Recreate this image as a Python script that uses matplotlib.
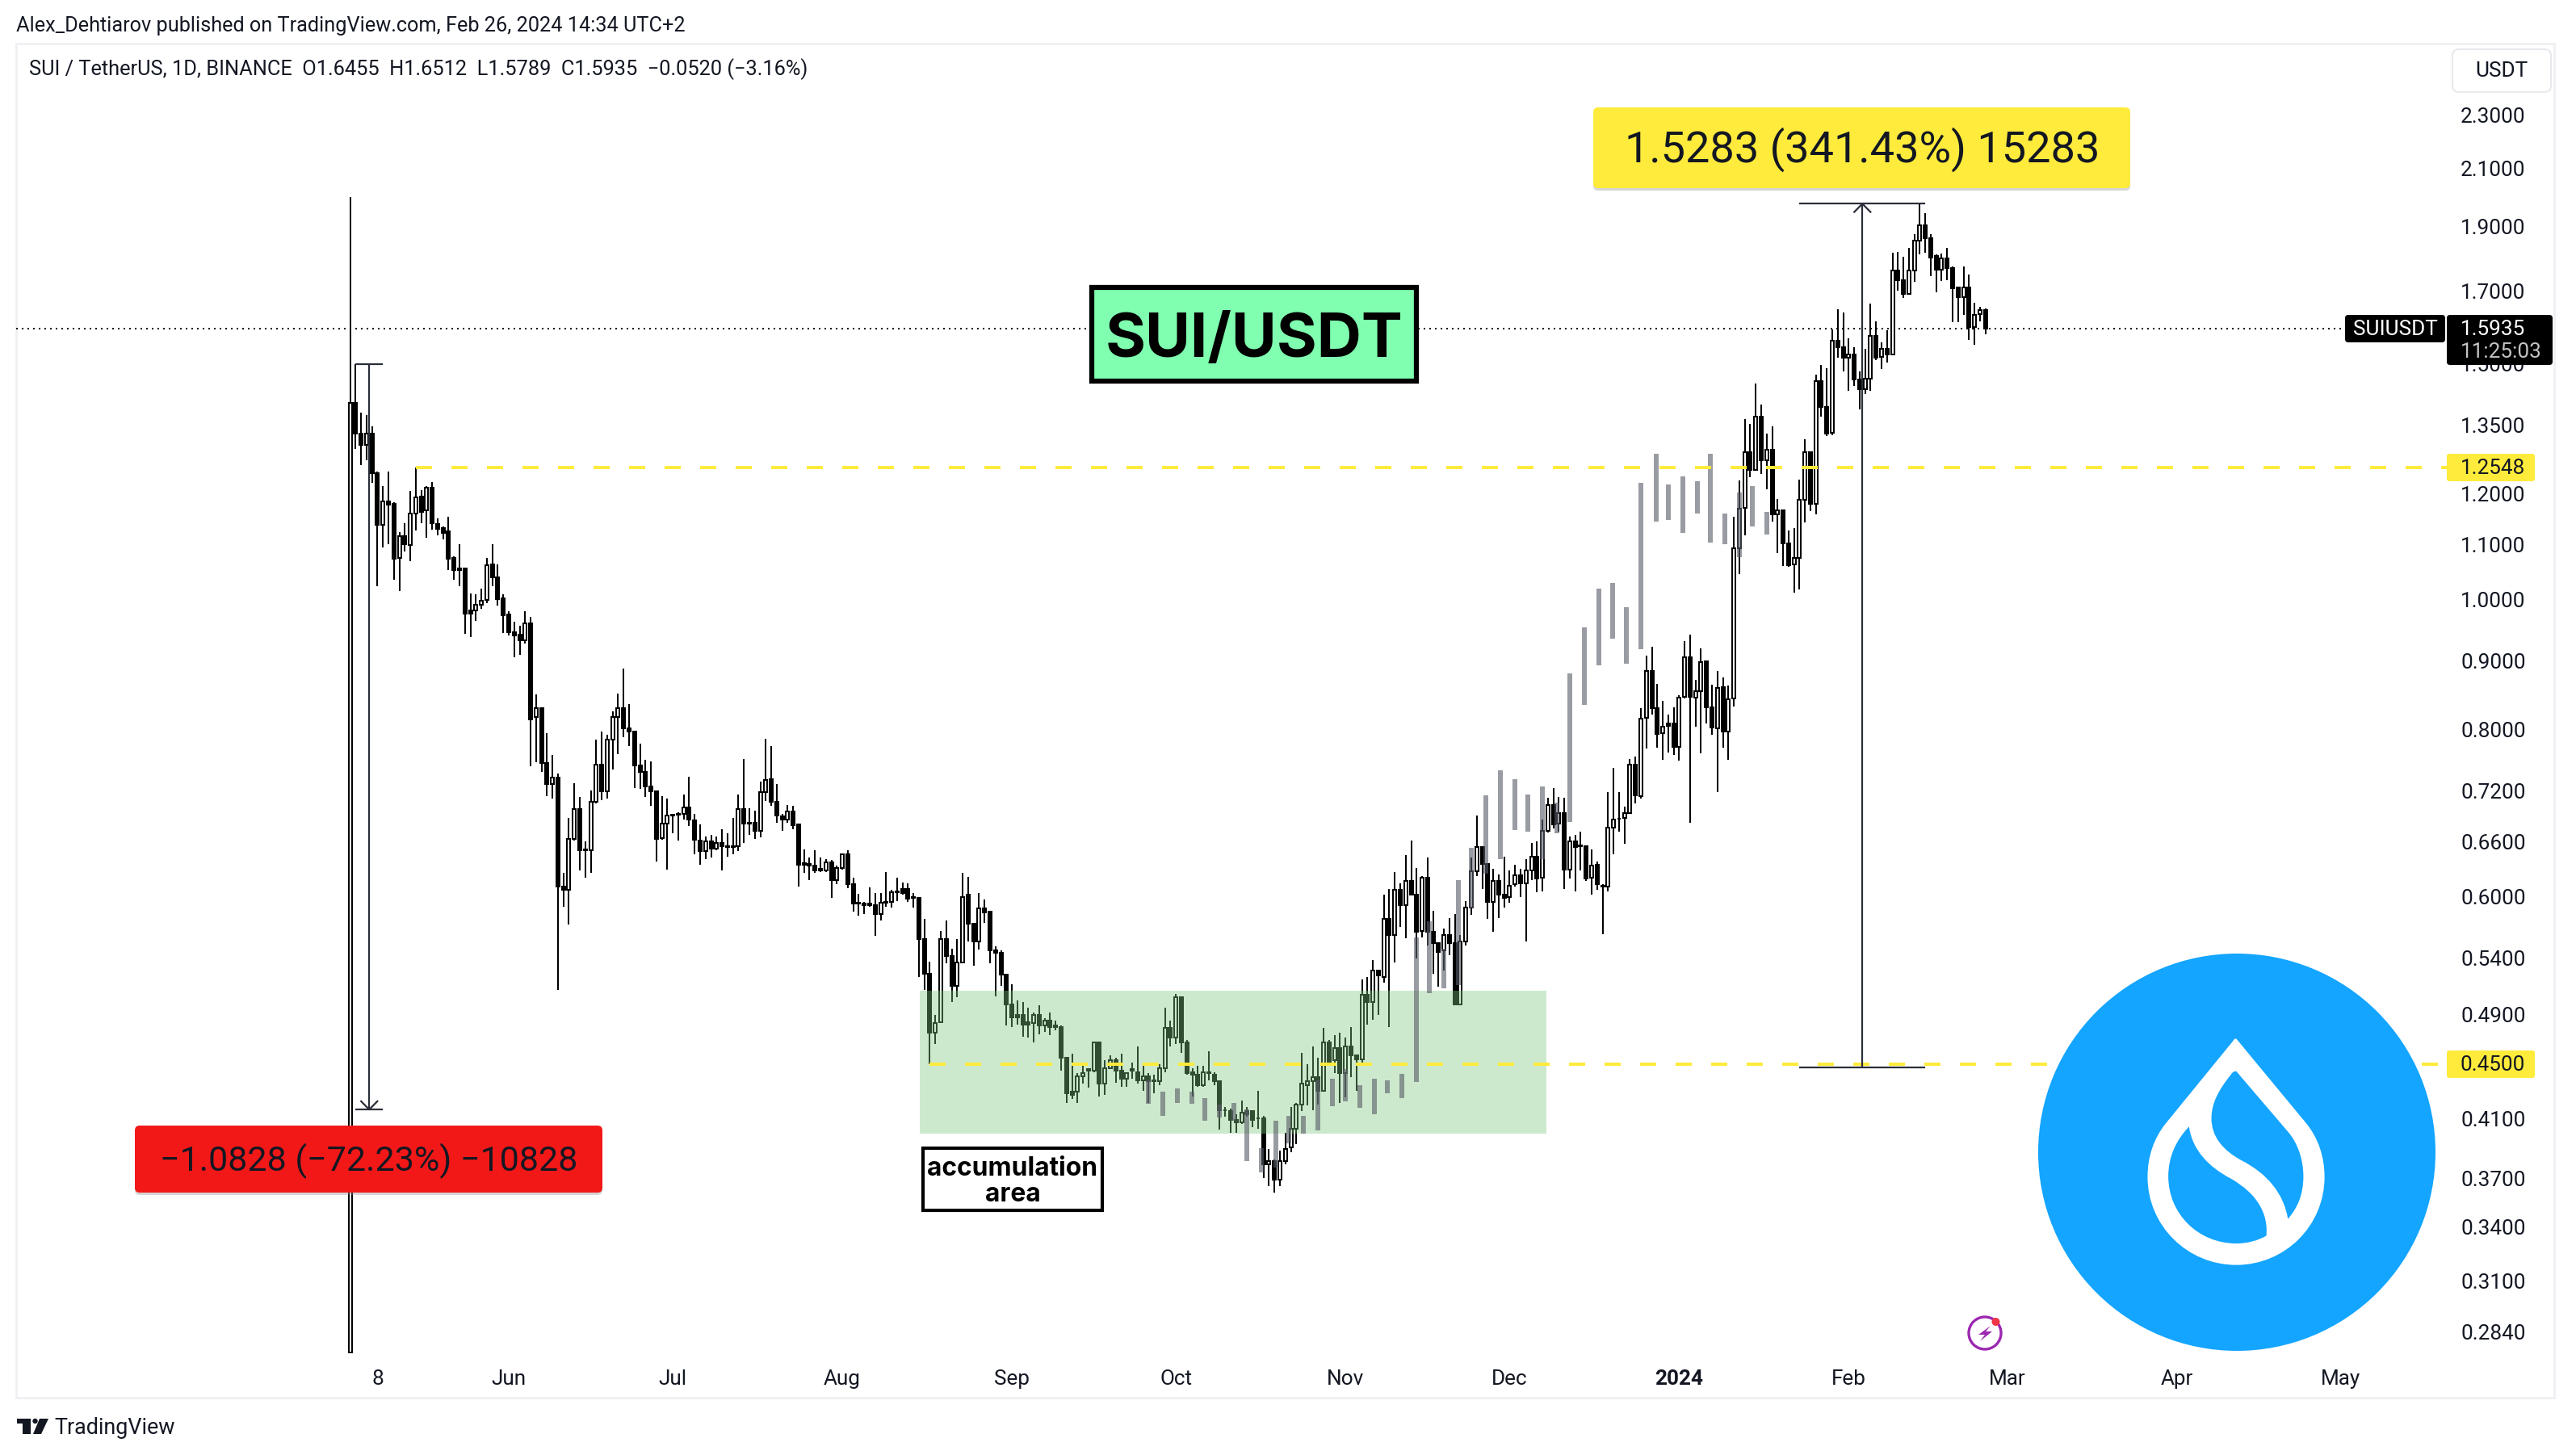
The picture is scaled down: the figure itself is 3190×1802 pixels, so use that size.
import numpy as np
import matplotlib
matplotlib.use("Agg")
import matplotlib.pyplot as plt
from matplotlib.patches import Circle, FancyBboxPatch, PathPatch, Polygon, Rectangle
from matplotlib.path import Path

plt.rcParams['font.family'] = ['Roboto', 'DejaVu Sans']

# candles, one per day, first one is day 2 (days counted from 1 May 2023)
first_day = 2
opens = [
    .274, 1.403, 1.331, 1.306, 1.331, 1.244, 1.137, 1.185, 1.180, 1.074,
    1.116, 1.099, 1.160, 1.194, 1.166, 1.213, 1.140, 1.131, 1.125, 1.074,
    1.056, 1.056, .982, .982, .992, 1.000, 1.063, 1.040, 1.002, .975,
    .946, .942, .933, .960, .817, .830, .755, .729, .737, .611,
    .607, .663, .698, .651, .650, .707, .753, .720, .786, .817,
    .830, .802, .797, .752, .744, .726, .720, .664, .681, .691,
    .692, .692, .700, .684, .661, .649, .660, .652, .658, .655,
    .655, .655, .698, .682, .682, .672, .719, .735, .707, .689,
    .685, .695, .680, .636, .635, .633, .630, .628, .637, .618,
    .631, .646, .613, .594, .593, .593, .592, .583, .595, .595,
    .606, .608, .608, .600, .599, .558, .526, .475, .484, .558,
    .542, .515, .536, .602, .573, .556, .588, .585, .547, .545,
    .525, .499, .490, .490, .484, .483, .490, .481, .485, .481,
    .480, .455, .429, .429, .441, .446, .445, .467, .435, .447,
    .453, .445, .439, .446, .444, .438, .441, .438, .437, .447,
    .479, .471, .505, .467, .444, .442, .434, .444, .442, .437,
    .416, .415, .409, .407, .415, .415, .410, .410, .379, .381,
    .369, .381, .390, .403, .420, .434, .437, .440, .430, .467,
    .453, .463, .443, .464, .457, .454, .507, .501, .529, .523,
    .578, .562, .607, .592, .617, .602, .566, .620, .565, .554,
    .547, .562, .554, .499, .556, .589, .627, .654, .635, .595,
    .617, .602, .600, .613, .623, .614, .628, .643, .620, .672,
    .703, .681, .693, .629, .660, .656, .655, .620, .634, .612,
    .611, .676, .686, .687, .693, .753, .714, .816, .885, .830,
    .795, .808, .808, .777, .846, .906, .845, .855, .900, .831,
    .802, .861, .797, .844, 1.093, 1.171, 1.289, 1.251, 1.371, 1.272,
    1.295, 1.158, 1.166, 1.102, 1.063, 1.075, 1.187, 1.289, 1.180, 1.456,
    1.394, 1.332, 1.561, 1.544, 1.517, 1.525, 1.461, 1.436, 1.463, 1.574,
    1.518, 1.539, 1.524, 1.762, 1.733, 1.692, 1.762, 1.854, 1.905, 1.862,
    1.807, 1.764, 1.798, 1.769, 1.710, 1.682, 1.712, 1.599, 1.635, 1.6455,
]
highs = [
    2.000, 1.500, 1.380, 1.375, 1.347, 1.246, 1.216, 1.246, 1.183, 1.123,
    1.141, 1.206, 1.255, 1.208, 1.216, 1.225, 1.150, 1.135, 1.154, 1.078,
    1.100, 1.056, 1.011, 1.010, 1.019, 1.074, 1.101, 1.063, 1.010, .980,
    .963, .956, .980, .971, .850, .830, .795, .766, .742, .625,
    .687, .730, .713, .660, .721, .786, .797, .793, .825, .851,
    .889, .836, .797, .781, .760, .757, .720, .714, .711, .692,
    .694, .716, .738, .692, .680, .666, .668, .666, .674, .669,
    .687, .716, .761, .699, .696, .732, .788, .778, .729, .692,
    .703, .702, .681, .651, .642, .650, .642, .640, .639, .633,
    .647, .650, .620, .603, .595, .610, .604, .604, .626, .607,
    .620, .615, .614, .604, .600, .578, .537, .490, .566, .576,
    .549, .558, .625, .621, .573, .604, .597, .585, .551, .547,
    .525, .516, .502, .501, .496, .492, .498, .487, .492, .485,
    .481, .456, .458, .443, .449, .447, .468, .467, .453, .457,
    .455, .458, .444, .451, .464, .449, .443, .442, .450, .496,
    .485, .508, .506, .469, .447, .449, .449, .460, .444, .438,
    .418, .417, .413, .423, .418, .415, .430, .412, .389, .382,
    .388, .400, .418, .421, .459, .450, .464, .455, .479, .469,
    .473, .475, .471, .480, .457, .521, .523, .538, .529, .602,
    .608, .626, .614, .645, .661, .631, .622, .642, .586, .554,
    .568, .579, .583, .562, .596, .642, .690, .655, .635, .630,
    .624, .643, .628, .634, .630, .640, .658, .660, .685, .712,
    .724, .713, .712, .666, .668, .671, .656, .651, .638, .613,
    .719, .749, .719, .701, .761, .764, .830, .909, .922, .866,
    .841, .821, .831, .849, .931, .942, .871, .920, .900, .864,
    .885, .875, .863, 1.153, 1.228, 1.364, 1.354, 1.451, 1.400, 1.331,
    1.348, 1.189, 1.166, 1.127, 1.131, 1.230, 1.318, 1.291, 1.472, 1.498,
    1.490, 1.592, 1.648, 1.638, 1.568, 1.544, 1.482, 1.540, 1.664, 1.615,
    1.558, 1.589, 1.816, 1.820, 1.804, 1.832, 1.876, 1.976, 1.945, 1.876,
    1.812, 1.814, 1.832, 1.773, 1.711, 1.773, 1.749, 1.666, 1.656, 1.6512,
]
lows = [
    .274, 1.296, 1.261, 1.271, 1.222, 1.024, 1.094, 1.100, 1.035, 1.015,
    1.086, 1.069, 1.126, 1.141, 1.112, 1.128, 1.117, 1.109, 1.052, 1.035,
    1.024, .943, .938, .964, .985, .995, 1.024, .990, .944, .941,
    .906, .910, .928, .751, .756, .744, .714, .711, .511, .590,
    .572, .661, .628, .620, .625, .705, .709, .711, .747, .767,
    .790, .778, .724, .723, .713, .702, .638, .662, .629, .669,
    .661, .685, .678, .646, .634, .640, .642, .650, .628, .643,
    .646, .649, .658, .668, .663, .665, .708, .702, .682, .672,
    .682, .674, .611, .625, .618, .625, .626, .626, .599, .613,
    .629, .609, .585, .581, .583, .590, .561, .576, .590, .589,
    .596, .602, .595, .589, .523, .511, .450, .466, .483, .535,
    .501, .505, .535, .556, .533, .548, .574, .535, .506, .515,
    .481, .480, .482, .472, .471, .467, .474, .476, .473, .477,
    .445, .421, .424, .421, .435, .432, .444, .426, .427, .446,
    .436, .433, .433, .439, .435, .430, .421, .428, .434, .444,
    .464, .466, .459, .442, .426, .433, .433, .438, .434, .402,
    .411, .400, .400, .406, .411, .404, .403, .370, .365, .361,
    .365, .379, .387, .392, .415, .419, .416, .420, .429, .451,
    .443, .421, .425, .440, .430, .451, .482, .486, .490, .518,
    .480, .536, .570, .559, .602, .540, .560, .552, .526, .514,
    .529, .543, .499, .498, .552, .582, .622, .608, .578, .565,
    .579, .589, .594, .611, .600, .556, .618, .605, .606, .670,
    .675, .671, .608, .619, .606, .628, .617, .602, .607, .563,
    .606, .646, .671, .657, .692, .705, .711, .774, .821, .776,
    .760, .769, .766, .758, .844, .682, .804, .768, .809, .793,
    .719, .776, .760, .832, 1.046, 1.118, 1.235, 1.249, 1.241, 1.209,
    1.144, 1.083, 1.060, 1.058, 1.012, 1.018, 1.143, 1.165, 1.158, 1.371,
    1.325, 1.328, 1.516, 1.481, 1.433, 1.445, 1.387, 1.424, 1.432, 1.510,
    1.488, 1.503, 1.522, 1.701, 1.680, 1.690, 1.727, 1.812, 1.817, 1.745,
    1.698, 1.730, 1.732, 1.612, 1.612, 1.633, 1.563, 1.551, 1.614, 1.5789,
]
closes = [
    1.403, 1.330, 1.306, 1.331, 1.243, 1.137, 1.184, 1.178, 1.073, 1.116,
    1.100, 1.160, 1.192, 1.164, 1.212, 1.141, 1.130, 1.122, 1.073, 1.052,
    1.052, .977, .977, .992, .999, 1.062, 1.039, 1.001, .974, .946,
    .941, .933, .960, .814, .830, .755, .729, .737, .611, .607,
    .663, .698, .650, .650, .707, .753, .720, .786, .817, .830,
    .802, .797, .752, .744, .726, .720, .663, .681, .690, .690,
    .691, .700, .685, .662, .649, .660, .652, .658, .655, .654,
    .654, .698, .681, .681, .672, .719, .734, .707, .690, .685,
    .695, .679, .634, .634, .633, .628, .628, .637, .618, .631,
    .646, .613, .593, .593, .592, .592, .583, .594, .594, .605,
    .605, .604, .598, .599, .558, .526, .475, .483, .558, .542,
    .515, .536, .600, .573, .556, .588, .584, .547, .545, .525,
    .499, .488, .488, .482, .482, .490, .481, .485, .480, .480,
    .455, .428, .427, .441, .443, .445, .467, .435, .447, .453,
    .445, .439, .443, .445, .438, .441, .437, .437, .447, .479,
    .471, .505, .467, .443, .442, .434, .444, .443, .437, .416,
    .416, .409, .407, .414, .413, .409, .410, .379, .381, .369,
    .381, .389, .403, .420, .435, .437, .440, .430, .467, .452,
    .463, .443, .464, .457, .454, .507, .501, .529, .524, .578,
    .562, .607, .592, .617, .602, .565, .620, .565, .554, .546,
    .562, .554, .499, .556, .589, .627, .654, .635, .595, .617,
    .602, .599, .612, .623, .614, .628, .643, .619, .672, .703,
    .680, .693, .629, .660, .654, .655, .619, .633, .613, .611,
    .676, .685, .686, .693, .753, .715, .815, .885, .830, .794,
    .804, .805, .777, .845, .906, .846, .855, .899, .831, .803,
    .859, .797, .843, 1.093, 1.170, 1.289, 1.250, 1.371, 1.271, 1.295,
    1.158, 1.166, 1.102, 1.062, 1.075, 1.187, 1.289, 1.179, 1.457, 1.394,
    1.331, 1.561, 1.543, 1.516, 1.524, 1.461, 1.436, 1.463, 1.574, 1.517,
    1.539, 1.524, 1.762, 1.733, 1.693, 1.762, 1.854, 1.904, 1.862, 1.802,
    1.763, 1.798, 1.768, 1.709, 1.682, 1.712, 1.599, 1.633, 1.6455, 1.5935,
]

# grey bars of the projected pattern
ghost_days = [147.9, 150.6, 153.3, 155.9, 158.3, 160.9, 163.6, 166.0, 168.6, 171.3,
              173.6, 176.3, 178.9, 181.6, 184.0, 186.6, 189.3, 191.6, 194.3, 197.0,
              199.3, 202.0, 204.6, 207.0, 209.7, 212.3, 215.0, 217.3, 220.0, 222.6,
              225.0, 227.7, 230.3, 232.8, 235.3, 238.0, 240.8, 243.0, 245.7, 248.3,
              250.7, 253.4, 256.0, 258.4, 261.0]
ghost_tops = [.4377, .4293, .4316, .4293, .4245, .4200, .4210, .4164, .3896, .4084,
              .4118, .4118, .4378, .4390, .4463, .4341, .4390, .4378, .4427, .5600,
              .5757, .5488, .6176, .6530, .7150, .7460, .7350, .7155, .7255, .7056,
              .8816, .9540, 1.020, 1.030, .9870, 1.223, 1.286, 1.220, 1.237, 1.226,
              1.286, 1.160, 1.203, 1.216, 1.163]
ghost_bottoms = [.4202, .4120, .4210, .4202, .4086, .4108, .4084, .3810, .3737, .3768,
                 .3928, .3994, .4016, .4187, .4222, .4175, .4130, .4281, .4246, .4367,
                 .5086, .5130, .5156, .5880, .6245, .6400, .6730, .6710, .6400, .6696,
                 .6824, .8342, .8940, .9360, .8960, .9190, 1.144, 1.147, 1.122, 1.160,
                 1.104, 1.100, 1.076, 1.135, 1.119]

price_ticks = [2.3, 2.1, 1.9, 1.7, 1.5, 1.35, 1.2, 1.1, 1.0, .9, .8, .72, .66, .6, .54, .49, .41, .37, .34, .31, .284]
price_labels = ["%.4f" % p for p in price_ticks]
day_ticks = [7, 31, 61, 92, 123, 153, 184, 214, 245, 276, 305, 336, 366]
day_labels = ["8", "Jun", "Jul", "Aug", "Sep", "Oct", "Nov", "Dec", "2024", "Feb", "Mar", "Apr", "May"]

last_price = 1.5935
level_high = 1.2548
level_low = 0.45
zone_days = (106.2, 220.7)
zone_prices = (0.3996, 0.5108)
drop_days = (3, 8)
drop_prices = (1.4991, 0.4163)
rise_days = (267, 290)
rise_prices = (0.4476, 1.9759)

INK = "#131722"
TOOL = "#2a2e39"
YELLOW = "#ffeb3b"
W, H = 3190, 1802
PANE = (20, 54, 3163, 1731)
SCALE_FONT = 18.8


def day_at(px):
    return (px - 420) / 6.773


def price_at(py):
    return np.exp((742.9 - py) / 720.3)


fig = plt.figure(figsize=(W / 100, H / 100), dpi=100, facecolor="white")
ax = fig.add_axes([PANE[0] / W, 1 - PANE[3] / H, (PANE[2] - PANE[0]) / W, (PANE[3] - PANE[1]) / H])
ax.set_axisbelow(True)
ax.set_yscale("log")
ax.set_xlim(day_at(PANE[0]), day_at(PANE[2]))
ax.set_ylim(price_at(PANE[3]), price_at(PANE[1]))
ax.set_yticks(price_ticks)
ax.set_yticklabels(price_labels)
ax.minorticks_off()
ax.yaxis.tick_right()
ax.tick_params(axis="y", length=0, pad=-83.5, labelsize=SCALE_FONT, labelcolor=INK)
ax.set_xticks(day_ticks)
ax.set_xticklabels(day_labels)
ax.tick_params(axis="x", length=0, pad=-25, labelsize=SCALE_FONT, labelcolor=INK)
ax.get_xticklabels()[day_labels.index("2024")].set_fontweight("bold")
for s in ax.spines.values():
    s.set_color("#eff0f3")
    s.set_linewidth(2)

# candles
days = first_day + np.arange(len(opens))
o, h, l, c = map(np.array, (opens, highs, lows, closes))
ax.vlines(days, l, h, color="black", linewidth=1.44, zorder=3, capstyle="butt")
body_low = np.minimum(o, c)
body_high = np.maximum(o, c)
face = ["white" if cc >= oo else "black" for oo, cc in zip(o, c)]
ax.bar(days, body_high - body_low, bottom=body_low, width=0.59, color=face,
       edgecolor="black", linewidth=1.44, zorder=3.2)

ax.add_patch(Rectangle((zone_days[0], zone_prices[0]), zone_days[1] - zone_days[0],
                       zone_prices[1] - zone_prices[0], facecolor=(128 / 255, 200 / 255, 128 / 255),
                       alpha=0.39, edgecolor="none", zorder=4))
ax.bar(ghost_days, np.array(ghost_tops) - np.array(ghost_bottoms), bottom=ghost_bottoms, width=0.89,
       color=(90 / 255, 93 / 255, 105 / 255), alpha=0.61, linewidth=0, zorder=5)

# levels
ax.plot([14, day_at(3030)], [level_high, level_high], color=YELLOW, linewidth=2.88,
        dashes=(5, 6), dash_capstyle="butt", zorder=6)
ax.plot([108, day_at(3030)], [level_low, level_low], color=YELLOW, linewidth=2.88,
        dashes=(5, 6), dash_capstyle="butt", zorder=6)
ax.plot([day_at(PANE[0]), day_at(2904)], [last_price, last_price], color="black", linewidth=1.44,
        dashes=(1, 2.5), dash_capstyle="butt", zorder=2.8)


# the two measure tools
def measure(x_pair, y_pair):
    mid = sum(x_pair) / 2
    kw = dict(color=TOOL, linewidth=1.6, zorder=6.5, solid_capstyle="butt")
    ax.plot(x_pair, [y_pair[0]] * 2, **kw)
    ax.plot(x_pair, [y_pair[1]] * 2, **kw)
    ax.plot([mid, mid], y_pair, **kw)
    sign = 1 if y_pair[1] > y_pair[0] else -1
    back = y_pair[1] * np.exp(-sign * 11 / 720.3)
    ax.plot([mid - 1.6, mid, mid + 1.6], [back, y_pair[1], back], **kw)


measure(drop_days, drop_prices)
measure(rise_days, rise_prices)

# everything drawn on the picture itself, in pixels
pix = fig.add_axes([0, 0, 1, 1], zorder=5)
pix.set_xlim(0, W)
pix.set_ylim(H, 0)
pix.axis("off")
pix.patch.set_visible(False)


def box(x0, y0, x1, y1, color, radius=6, shadow=False, edge="none", lw=0):
    if shadow:
        pix.add_patch(FancyBboxPatch((x0, y0 + 3), x1 - x0, y1 - y0, boxstyle="round,pad=0,rounding_size=%d" % radius,
                                     facecolor="#888888", alpha=0.35, edgecolor="none"))
    pix.add_patch(FancyBboxPatch((x0, y0), x1 - x0, y1 - y0, boxstyle="round,pad=0,rounding_size=%d" % radius,
                                 facecolor=color, edgecolor=edge, linewidth=lw))


pix.text(20, 32, "Alex_Dehtiarov published on TradingView.com, Feb 26, 2024 14:34 UTC+2",
         fontsize=18.2, color=INK, va="center")
pix.text(36, 86, "SUI / TetherUS, 1D, BINANCE  O1.6455  H1.6512  L1.5789  C1.5935  \u22120.0520 (\u22123.16%)",
         fontsize=18.27, color=INK, va="center")
box(3037, 61, 3159, 114, "white", radius=8, edge="#e8e9ed", lw=1.5)
pix.text(3098, 88, "USDT", fontsize=SCALE_FONT, color=INK, ha="center", va="center")

box(1973, 133, 2638, 233, YELLOW, shadow=True)
pix.text(2306, 185, "1.5283 (341.43%) 15283", fontsize=39, color=INK, ha="center", va="center")
box(167, 1394, 746, 1477, "#f21818", shadow=True)
pix.text(457, 1438, "\u22121.0828 (\u221272.23%) \u221210828", fontsize=31, color=INK, ha="center", va="center")

pix.add_patch(Rectangle((1352, 356), 402, 116, facecolor="#80ffb0", edgecolor="black", linewidth=4.5))
pix.text(1553, 422, "SUI/USDT", fontsize=55, family=["Inter", "DejaVu Sans"], fontweight="bold", color="black",
         ha="center", va="center")
pix.add_patch(Rectangle((1143, 1422), 222, 77, facecolor="white", edgecolor="black", linewidth=3))
pix.text(1254, 1447, "accumulation", fontsize=22.9, family=["Inter", "DejaVu Sans"], fontweight="bold",
         color="black", ha="center", va="center")
pix.text(1254, 1479, "area", fontsize=22.9, family=["Inter", "DejaVu Sans"], fontweight="bold", color="black",
         ha="center", va="center")

box(2904, 390, 3028, 424, "black", radius=4)
pix.text(2966, 408, "SUIUSDT", fontsize=SCALE_FONT, color="white", ha="center", va="center")
box(3030, 390, 3161, 452, "black", radius=4)
pix.text(3047, 408, "1.5935", fontsize=SCALE_FONT, color="white", va="center")
pix.text(3047, 436, "11:25:03", fontsize=SCALE_FONT, color="#c4c4c4", va="center")
box(3030, 562, 3139, 596, YELLOW, radius=3)
pix.text(3047, 580, "1.2548", fontsize=SCALE_FONT, color=INK, va="center")
box(3030, 1301, 3139, 1335, YELLOW, radius=3)
pix.text(3047, 1319, "0.4500", fontsize=SCALE_FONT, color=INK, va="center")

# SUI coin
SUI_BLUE = "#13a5ff"
pix.add_patch(Circle((2770, 1427), 246, facecolor=SUI_BLUE, edgecolor="none"))


def logo_path(segments):
    verts, codes = [], []
    for seg in segments:
        code = {1: Path.MOVETO if not verts or codes[-1] == Path.CLOSEPOLY else Path.LINETO, 3: Path.CURVE4}[len(seg)]
        verts.extend(seg)
        codes.extend([code] * len(seg))
    verts.append(verts[0])
    codes.append(Path.CLOSEPOLY)
    pts = [(2400 + x / 1.985, 1150 + y / 2.405) for x, y in verts]
    return Path(pts, codes)


outer = [[(733, 328)], [(905, 580)], [(935, 625), (950, 680), (950, 740)],
         [(950, 885), (853, 1002), (733, 1002)], [(613, 1002), (515, 885), (515, 740)],
         [(515, 680), (530, 625), (560, 580)], [(725, 335)], [(728, 328), (730, 328), (733, 328)]]
hole_right = [[(733, 425)], [(860, 605)], [(885, 640), (898, 690), (898, 738)],
              [(898, 790), (885, 830), (860, 865)], [(850, 790), (810, 730), (745, 690)],
              [(700, 660), (672, 620), (672, 565)], [(672, 520), (690, 480), (720, 435)],
              [(724, 427), (728, 425), (733, 425)]]
hole_left = [[(617, 590)], [(585, 630), (566, 680), (566, 738)], [(566, 850), (640, 938), (733, 938)],
             [(760, 938), (785, 930), (807, 915)], [(812, 850), (785, 790), (720, 745)],
             [(665, 710), (625, 660), (617, 590)]]
pix.add_patch(PathPatch(logo_path(outer), facecolor="white", edgecolor="none"))
pix.add_patch(PathPatch(logo_path(hole_right), facecolor=SUI_BLUE, edgecolor="none"))
pix.add_patch(PathPatch(logo_path(hole_left), facecolor=SUI_BLUE, edgecolor="none"))

# small bolt icon
pix.add_patch(Circle((2458, 1651), 20, facecolor="none", edgecolor="#9c27b0", linewidth=2.4))
pix.add_patch(Polygon([(2465, 1642), (2450, 1653), (2458, 1653), (2452, 1661), (2467, 1649), (2459, 1649)],
                      facecolor="#9c27b0", edgecolor="none"))
pix.add_patch(Circle((2471.5, 1637), 5, facecolor="#f23645", edgecolor="none"))

# TradingView mark
pix.add_patch(Polygon([(21, 1757), (38, 1757), (38, 1776), (28, 1776), (28, 1763), (21, 1763)],
                      facecolor=INK, edgecolor="none"))
pix.add_patch(Circle((43.5, 1760), 3.2, facecolor=INK, edgecolor="none"))
pix.add_patch(Polygon([(49, 1757), (60, 1757), (51, 1776), (41, 1776)], facecolor=INK, edgecolor="none"))
pix.text(67, 1768, "TradingView", fontsize=19.4, color=INK, va="center")

fig.savefig("out.png", dpi=100)
